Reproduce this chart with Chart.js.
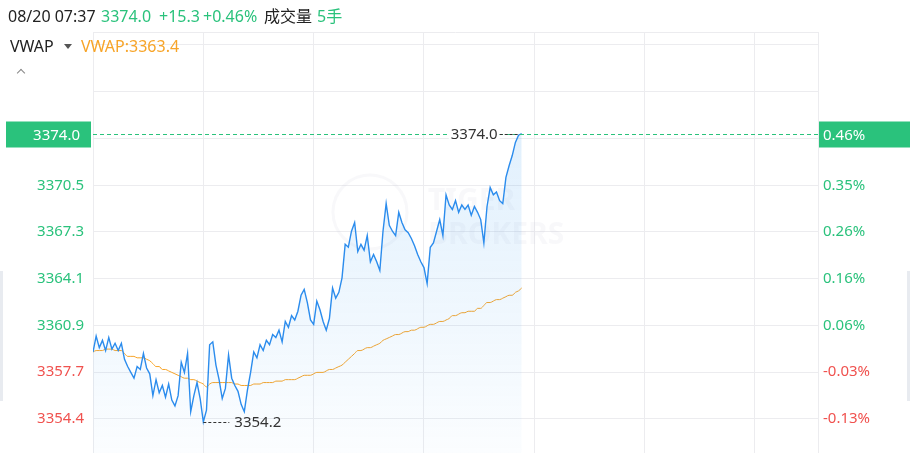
<!DOCTYPE html>
<html>
<head>
<meta charset="utf-8">
<script src="https://cdn.jsdelivr.net/npm/chart.js@4/dist/chart.umd.min.js"></script>
<style>
    body { margin: 0; background: #fff; }
    #wrap { position: relative; width: 910px; height: 453px; overflow: hidden; font-family: 'Noto Sans', 'Noto Sans CJK SC', sans-serif; }
    #wrap canvas { position: absolute; left: 0; top: 0; }
    .txt { position: absolute; white-space: nowrap; font-size: 16px; line-height: 20px; }
    .dark { color: #222; }
    .up { color: #2ac27c; }
    .vw { color: #f7a428; }
    .side { position: absolute; top: 271px; width: 3px; height: 130px; background: #e8ebf0; }
</style>
</head>
<body>
<div id="wrap">
    <canvas id="chart" width="910" height="453"></canvas>
    <div class="txt dark" style="left:8px;top:6px">08/20 07:37</div>
    <div class="txt up" style="left:101px;top:6px">3374.0</div>
    <div class="txt up" style="left:159px;top:6px">+15.3</div>
    <div class="txt up" style="left:203px;top:6px">+0.46%</div>
    <div class="txt dark" style="left:264px;top:6px">成交量</div>
    <div class="txt up" style="left:317px;top:6px">5手</div>
    <div class="txt dark" style="left:10px;top:36px">VWAP</div>
    <div style="position:absolute;left:64px;top:44px;width:0;height:0;border-left:4px solid transparent;border-right:4px solid transparent;border-top:5px solid #555"></div>
    <div class="txt vw" style="left:81px;top:36px">VWAP:3363.4</div>
    <div style="position:absolute;left:18px;top:70px;width:5px;height:5px;border-left:1.5px solid #888;border-top:1.5px solid #888;transform:rotate(45deg)"></div>
    <div class="side" style="left:0"></div>
    <div class="side" style="left:907px"></div>
</div>
<script>
// data - START
const STEP = 6;            // minutes between points
const SESSION_END = 1380;  // minutes in session
const X_GRID = [0, 210, 420, 630, 840, 1050, 1260];
const PREV_CLOSE = 3358.7;

const PRICE = [
    3359.0, 3360.1, 3359.3, 3359.8, 3359.1, 3360.0, 3359.2, 3359.6, 3359.1, 3359.6,
    3358.5, 3358.0, 3357.6, 3357.2, 3358.0, 3357.8, 3358.9, 3357.9, 3357.5, 3356.0,
    3357.1, 3356.2, 3356.7, 3355.9, 3356.8, 3355.7, 3355.3, 3356.0, 3358.3, 3357.6,
    3358.9, 3354.9, 3356.0, 3356.9, 3355.8, 3354.2, 3355.0, 3359.5, 3359.7, 3358.1,
    3357.1, 3355.8, 3356.5, 3358.8, 3357.2, 3356.7, 3356.3, 3355.4, 3354.9, 3356.4,
    3357.6, 3359.0, 3358.6, 3359.5, 3359.1, 3359.8, 3359.5, 3360.2, 3360.0, 3360.5,
    3359.7, 3361.1, 3360.7, 3361.5, 3361.2, 3361.8, 3362.9, 3363.3, 3362.4, 3361.2,
    3360.9, 3362.5, 3361.9, 3361.1, 3360.5, 3361.3, 3363.4, 3362.7, 3363.1, 3364.1,
    3366.4, 3366.2, 3367.3, 3367.9, 3365.9, 3366.4, 3366.0, 3367.0, 3365.2, 3365.7,
    3365.2, 3364.6, 3367.3, 3369.2, 3367.7, 3367.3, 3367.0, 3368.6, 3367.9, 3367.4,
    3367.2, 3366.8, 3366.3, 3365.7, 3365.2, 3364.8, 3363.7, 3366.2, 3366.5, 3367.3,
    3368.1, 3367.0, 3369.8, 3369.1, 3368.8, 3369.4, 3368.6, 3369.1, 3368.8, 3369.1,
    3368.4, 3369.0, 3368.6, 3368.1, 3366.5, 3369.0, 3370.3, 3369.8, 3370.0, 3369.4,
    3369.2, 3371.0, 3371.8, 3372.5, 3373.4, 3373.9, 3374.0
];

const VWAP = [
    3359.0, 3359.1, 3359.1, 3359.1, 3359.2, 3359.2, 3359.2, 3359.1, 3359.1, 3359.1,
    3358.9, 3358.7, 3358.7, 3358.7, 3358.6, 3358.6, 3358.6, 3358.5, 3358.4, 3358.2,
    3358.0, 3358.0, 3357.8, 3357.8, 3357.7, 3357.6, 3357.5, 3357.4, 3357.3, 3357.2,
    3357.2, 3357.1, 3357.1, 3357.0, 3356.9, 3356.8, 3356.6, 3356.8, 3356.9, 3356.9,
    3356.9, 3356.9, 3356.9, 3356.9, 3356.9, 3356.8, 3356.8, 3356.7, 3356.7, 3356.7,
    3356.7, 3356.8, 3356.8, 3356.8, 3356.9, 3356.9, 3356.9, 3356.9, 3357.0, 3357.0,
    3357.0, 3357.1, 3357.1, 3357.1, 3357.1, 3357.2, 3357.3, 3357.4, 3357.4, 3357.4,
    3357.5, 3357.6, 3357.6, 3357.6, 3357.7, 3357.8, 3357.8, 3357.9, 3358.0, 3358.1,
    3358.3, 3358.5, 3358.7, 3358.9, 3359.1, 3359.1, 3359.2, 3359.3, 3359.3, 3359.4,
    3359.5, 3359.6, 3359.8, 3359.9, 3360.0, 3360.1, 3360.2, 3360.2, 3360.3, 3360.4,
    3360.4, 3360.5, 3360.5, 3360.6, 3360.7, 3360.7, 3360.8, 3360.9, 3360.9, 3361.0,
    3361.1, 3361.1, 3361.2, 3361.3, 3361.5, 3361.5, 3361.6, 3361.7, 3361.7, 3361.8,
    3361.8, 3361.8, 3362.0, 3362.0, 3362.2, 3362.4, 3362.4, 3362.5, 3362.6, 3362.6,
    3362.7, 3362.8, 3362.9, 3362.9, 3363.1, 3363.2, 3363.4
];

const Y_MIN = 3352.06;
const Y_MAX = 3380.99;
const Y_TICKS = [3354.4, 3357.61, 3360.82, 3364.04, 3367.25, 3370.46, 3373.67, 3376.88, 3380.1];
const Y_LABELS = ['3354.4', '3357.7', '3360.9', '3364.1', '3367.3', '3370.5', '', '', ''];
const PCT_LABELS = ['-0.13%', '-0.03%', '0.06%', '0.16%', '0.26%', '0.35%', '', '', ''];
// data - END

const GREEN = '#2ac27c';
const RED = '#f0524f';
const GRID = '#ececef';
const FONT = "'Noto Sans', sans-serif";

let lastPrice = PRICE[PRICE.length - 1];
let lastPct = ((lastPrice / PREV_CLOSE - 1) * 100).toFixed(2) + '%';
let maxIdx = PRICE.indexOf(Math.max(...PRICE));
let minIdx = PRICE.indexOf(Math.min(...PRICE));

let priceData = PRICE.map((v, i) => ({ x: i * STEP, y: v }));
let vwapData = VWAP.map((v, i) => ({ x: i * STEP, y: v }));

let tickColor = (c) => (c.tick && c.tick.value < PREV_CLOSE) ? RED : GREEN;

let noPad = (s) => {
    s.paddingTop = 0;
    s.paddingBottom = 0;
};

let markers = {
    id: 'markers',
    beforeDatasetsDraw(chart) {
        // faint watermark
        let ctx = chart.ctx;
        ctx.save();
        ctx.strokeStyle = 'rgba(200,200,210,0.12)';
        ctx.lineWidth = 3;
        ctx.beginPath();
        ctx.arc(370, 212, 37, 0, Math.PI * 2);
        ctx.stroke();
        ctx.fillStyle = 'rgba(200,200,210,0.12)';
        ctx.font = "bold 30px " + FONT;
        ctx.textBaseline = 'alphabetic';
        ctx.fillText('TIGER', 428, 210);
        ctx.fillText('BROKERS', 428, 244);
        ctx.restore();
    },
    afterDatasetsDraw(chart) {
        let ctx = chart.ctx;
        let area = chart.chartArea;
        let yS = chart.scales.y;
        let pts = chart.getDatasetMeta(0).data;
        let yLast = Math.round(yS.getPixelForValue(lastPrice)) + 0.5;

        ctx.save();
        ctx.lineWidth = 1;

        // current price dashed line
        ctx.strokeStyle = GREEN;
        ctx.setLineDash([4, 3]);
        ctx.beginPath();
        ctx.moveTo(area.left, yLast);
        ctx.lineTo(area.right, yLast);
        ctx.stroke();

        // max marker
        ctx.font = '15px ' + FONT;
        ctx.textBaseline = 'middle';
        let pMax = pts[maxIdx];
        let maxTxt = PRICE[maxIdx].toFixed(1);
        let tw = ctx.measureText(maxTxt).width;
        let tx = pMax.x - 24;
        ctx.fillStyle = '#fff';
        ctx.fillRect(tx - tw - 2, pMax.y - 8, tw + 4, 16);
        ctx.fillStyle = '#333';
        ctx.textAlign = 'right';
        ctx.fillText(maxTxt, tx, pMax.y + 1);
        ctx.strokeStyle = '#333';
        ctx.setLineDash([3, 2]);
        ctx.beginPath();
        ctx.moveTo(tx + 2, Math.round(pMax.y) + 0.5);
        ctx.lineTo(pMax.x - 2, Math.round(pMax.y) + 0.5);
        ctx.stroke();

        // min marker
        let pMin = pts[minIdx];
        ctx.beginPath();
        ctx.moveTo(pMin.x, Math.round(pMin.y) + 0.5);
        ctx.lineTo(pMin.x + 26, Math.round(pMin.y) + 0.5);
        ctx.stroke();
        ctx.textAlign = 'left';
        ctx.fillText(PRICE[minIdx].toFixed(1), pMin.x + 31, pMin.y + 1);

        // price boxes
        ctx.setLineDash([]);
        ctx.fillStyle = GREEN;
        ctx.fillRect(6, yLast - 13, 85, 26);
        ctx.fillRect(area.right + 1, yLast - 13, 910 - area.right - 1, 26);
        ctx.fillStyle = '#fff';
        ctx.textAlign = 'right';
        ctx.fillText(lastPrice.toFixed(1), 80, yLast + 1);
        ctx.textAlign = 'left';
        ctx.fillText(lastPct, area.right + 5, yLast + 1);

        // top border
        ctx.strokeStyle = GRID;
        ctx.beginPath();
        ctx.moveTo(area.left, area.top + 0.5);
        ctx.lineTo(area.right, area.top + 0.5);
        ctx.stroke();
        ctx.restore();
    }
};

let ctx = document.getElementById('chart');
let config = {
    type: 'line',
    data: {
        datasets: [{
            label: 'Price',
            data: priceData,
            borderColor: '#2b8ced',
            borderWidth: 1.4,
            pointRadius: 0,
            tension: 0,
            fill: 'start',
            backgroundColor: (c) => {
                let area = c.chart.chartArea;
                if (!area) return 'rgba(43,140,237,0.08)';
                let g = c.chart.ctx.createLinearGradient(0, area.top + 100, 0, area.bottom);
                g.addColorStop(0, 'rgba(43,150,240,0.14)');
                g.addColorStop(1, 'rgba(43,150,240,0.02)');
                return g;
            },
            order: 1
        }, {
            label: 'VWAP',
            data: vwapData,
            borderColor: '#f7a428',
            borderWidth: 1,
            pointRadius: 0,
            cubicInterpolationMode: 'monotone',
            fill: false,
            order: 2
        }]
    },
    options: {
        responsive: false,
        animation: false,
        devicePixelRatio: 1,
        layout: { padding: { top: 32, left: 0, right: 0, bottom: 0 } },
        plugins: {
            legend: { display: false },
            tooltip: { enabled: false }
        },
        scales: {
            x: {
                type: 'linear',
                min: 0,
                max: SESSION_END,
                afterBuildTicks: (s) => { s.ticks = X_GRID.map(v => ({ value: v })); },
                afterFit: (s) => { s.height = 0; s.paddingLeft = 0; s.paddingRight = 0; },
                ticks: { display: false },
                grid: { color: GRID, drawTicks: false },
                border: { display: false }
            },
            y: {
                position: 'left',
                min: Y_MIN,
                max: Y_MAX,
                afterBuildTicks: (s) => { s.ticks = Y_TICKS.map(v => ({ value: v })); },
                afterFit: (s) => { s.width = 93; noPad(s); },
                ticks: {
                    autoSkip: false,
                    padding: 9,
                    color: tickColor,
                    font: { family: FONT, size: 15 },
                    callback: (v, i) => Y_LABELS[i]
                },
                grid: { color: GRID, drawTicks: false },
                border: { display: true, color: GRID }
            },
            y2: {
                position: 'right',
                min: Y_MIN,
                max: Y_MAX,
                afterBuildTicks: (s) => { s.ticks = Y_TICKS.map(v => ({ value: v })); },
                afterFit: (s) => { s.width = 92; noPad(s); },
                ticks: {
                    autoSkip: false,
                    padding: 5,
                    color: tickColor,
                    font: { family: FONT, size: 15 },
                    callback: (v, i) => PCT_LABELS[i]
                },
                grid: { display: false, drawTicks: false },
                border: { display: true, color: GRID }
            }
        }
    },
    plugins: [markers]
};
let priceChart = new Chart(ctx, config);
</script>
</body>
</html>
